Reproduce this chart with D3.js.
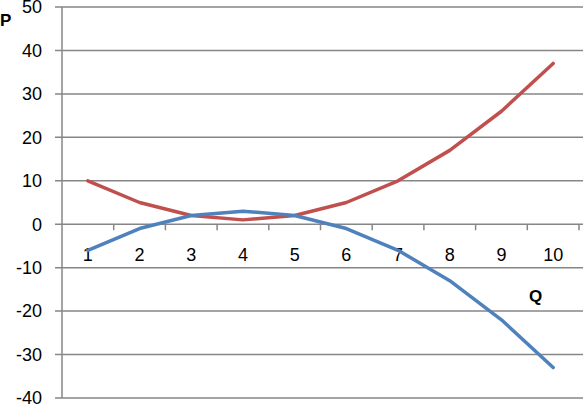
<!DOCTYPE html>
<html><head><meta charset="utf-8">
<script src="https://cdn.jsdelivr.net/npm/d3@7"></script>
<style>body{margin:0;background:#fff}svg{display:block}</style>
</head><body>
<svg id="c" width="583" height="406"></svg>
<script>
const categories = [1,2,3,4,5,6,7,8,9,10];
const blueValues = [-6,-1,2,3,2,-1,-6,-13,-22,-33];
const redValues = [10,5,2,1,2,5,10,17,26,37];
const yTicks = [50,40,30,20,10,0,-10,-20,-30,-40];

const svg = d3.select("#c");
const pLeft = 62, pRight = 579, pTop = 7, pBottom = 398;
const font = "'Liberation Sans', Arial, sans-serif";

const x = d3.scaleBand().domain(categories).range([pLeft, pRight]);
const y = d3.scaleLinear().domain([-40, 50]).range([pBottom, pTop]);

// gridlines
svg.append("g").selectAll("line").data(yTicks).join("line")
  .attr("x1", pLeft - 7).attr("x2", 583)
  .attr("y1", d => y(d)).attr("y2", d => y(d))
  .attr("stroke", "#868686").attr("stroke-width", 1.5);

// y axis line
svg.append("line").attr("x1", pLeft).attr("x2", pLeft).attr("y1", pTop).attr("y2", pBottom)
  .attr("stroke", "#868686").attr("stroke-width", 1.5);

// y labels
svg.append("g").selectAll("text").data(yTicks).join("text")
  .attr("x", 42).attr("y", d => y(d)).attr("dy", "0.35em")
  .attr("text-anchor", "end").attr("font-family", font).attr("font-size", 18)
  .attr("fill", "#000").text(d => d);

// x ticks on zero line
const xTickPos = categories.map(c => x(c)).concat([x(categories[categories.length-1]) + x.bandwidth()]);
svg.append("g").selectAll("line").data(xTickPos.slice(1)).join("line")
  .attr("x1", d => d).attr("x2", d => d)
  .attr("y1", y(0)).attr("y2", y(0) + 6)
  .attr("stroke", "#868686").attr("stroke-width", 1.5);

// x labels
svg.append("g").selectAll("text").data(categories).join("text")
  .attr("x", d => x(d) + x.bandwidth()/2).attr("y", y(0) + 37)
  .attr("text-anchor", "middle").attr("font-family", font).attr("font-size", 18)
  .attr("fill", "#000").text(d => d);

const line = d3.line().x((d,i) => x(categories[i]) + x.bandwidth()/2).y(d => y(d));

svg.append("path").datum(redValues).attr("d", line)
  .attr("fill", "none").attr("stroke", "#C0504D").attr("stroke-width", 3.5)
  .attr("stroke-linejoin", "round").attr("stroke-linecap", "round");
svg.append("path").datum(blueValues).attr("d", line)
  .attr("fill", "none").attr("stroke", "#4F81BD").attr("stroke-width", 3.5)
  .attr("stroke-linejoin", "round").attr("stroke-linecap", "round");

// axis titles
svg.append("text").attr("x", 0).attr("y", 26).attr("font-family", font)
  .attr("font-size", 17).attr("font-weight", "bold").text("P");
svg.append("text").attr("x", 529).attr("y", 302).attr("font-family", font)
  .attr("font-size", 17).attr("font-weight", "bold").text("Q");
</script>
</body></html>
